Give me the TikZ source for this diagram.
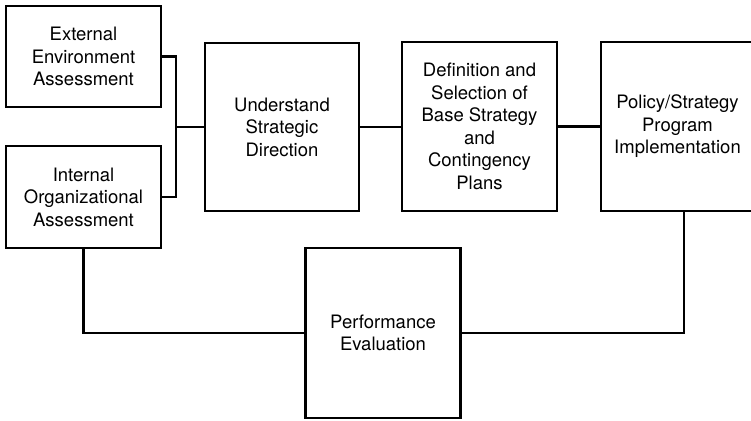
\documentclass[tikz,border=0pt]{standalone}
\usepackage{fontspec}
\setmainfont{TeX Gyre Heros}

\tikzset{
    stagebox/.style={draw, line width=2.2pt, align=center, inner sep=0pt,
        font=\fontsize{18.5}{22.5}\selectfont},
    link/.style={line width=2.2pt}
}

\begin{document}
\begin{tikzpicture}[x=1pt, y=-1pt]
    \useasboundingbox (0, 0) rectangle (751, 420);

    \node[stagebox, minimum width=155pt, minimum height=101pt] (ext) at (83.5, 56.5) {External\\Environment\\Assessment};
    \node[stagebox, minimum width=155pt, minimum height=102pt] (int) at (83.5, 197) {Internal\\Organizational\\Assessment};
    \node[stagebox, minimum width=154pt, minimum height=168pt] (und) at (282, 127) {Understand\\Strategic\\Direction};
    \node[stagebox, minimum width=155pt, minimum height=169pt] (def) at (479.5, 126.5) {Definition and\\Selection of\\Base Strategy\\and\\Contingency\\Plans};
    \node[stagebox, minimum width=153pt, minimum height=169pt] (pol) at (677.5, 126.5) {Policy/Strategy\\Program\\Implementation};
    \node[stagebox, minimum width=155pt, minimum height=170pt] (perf) at (383, 333) {Performance\\Evaluation};

    \path (und.west) ++(-28, 0) coordinate (join);
    \draw[link] (ext.east) -| (join) |- (int.east);
    \draw[link] (join) -- (und.west);
    \draw[link] (und.east) -- (def.west |- und.east);
    \draw[link] (def.east) -- (pol.west);
    \draw[link] (int.south) |- (perf.west);
    \draw[link] ([xshift=6.5pt]pol.south) |- (perf.east);
\end{tikzpicture}
\end{document}
